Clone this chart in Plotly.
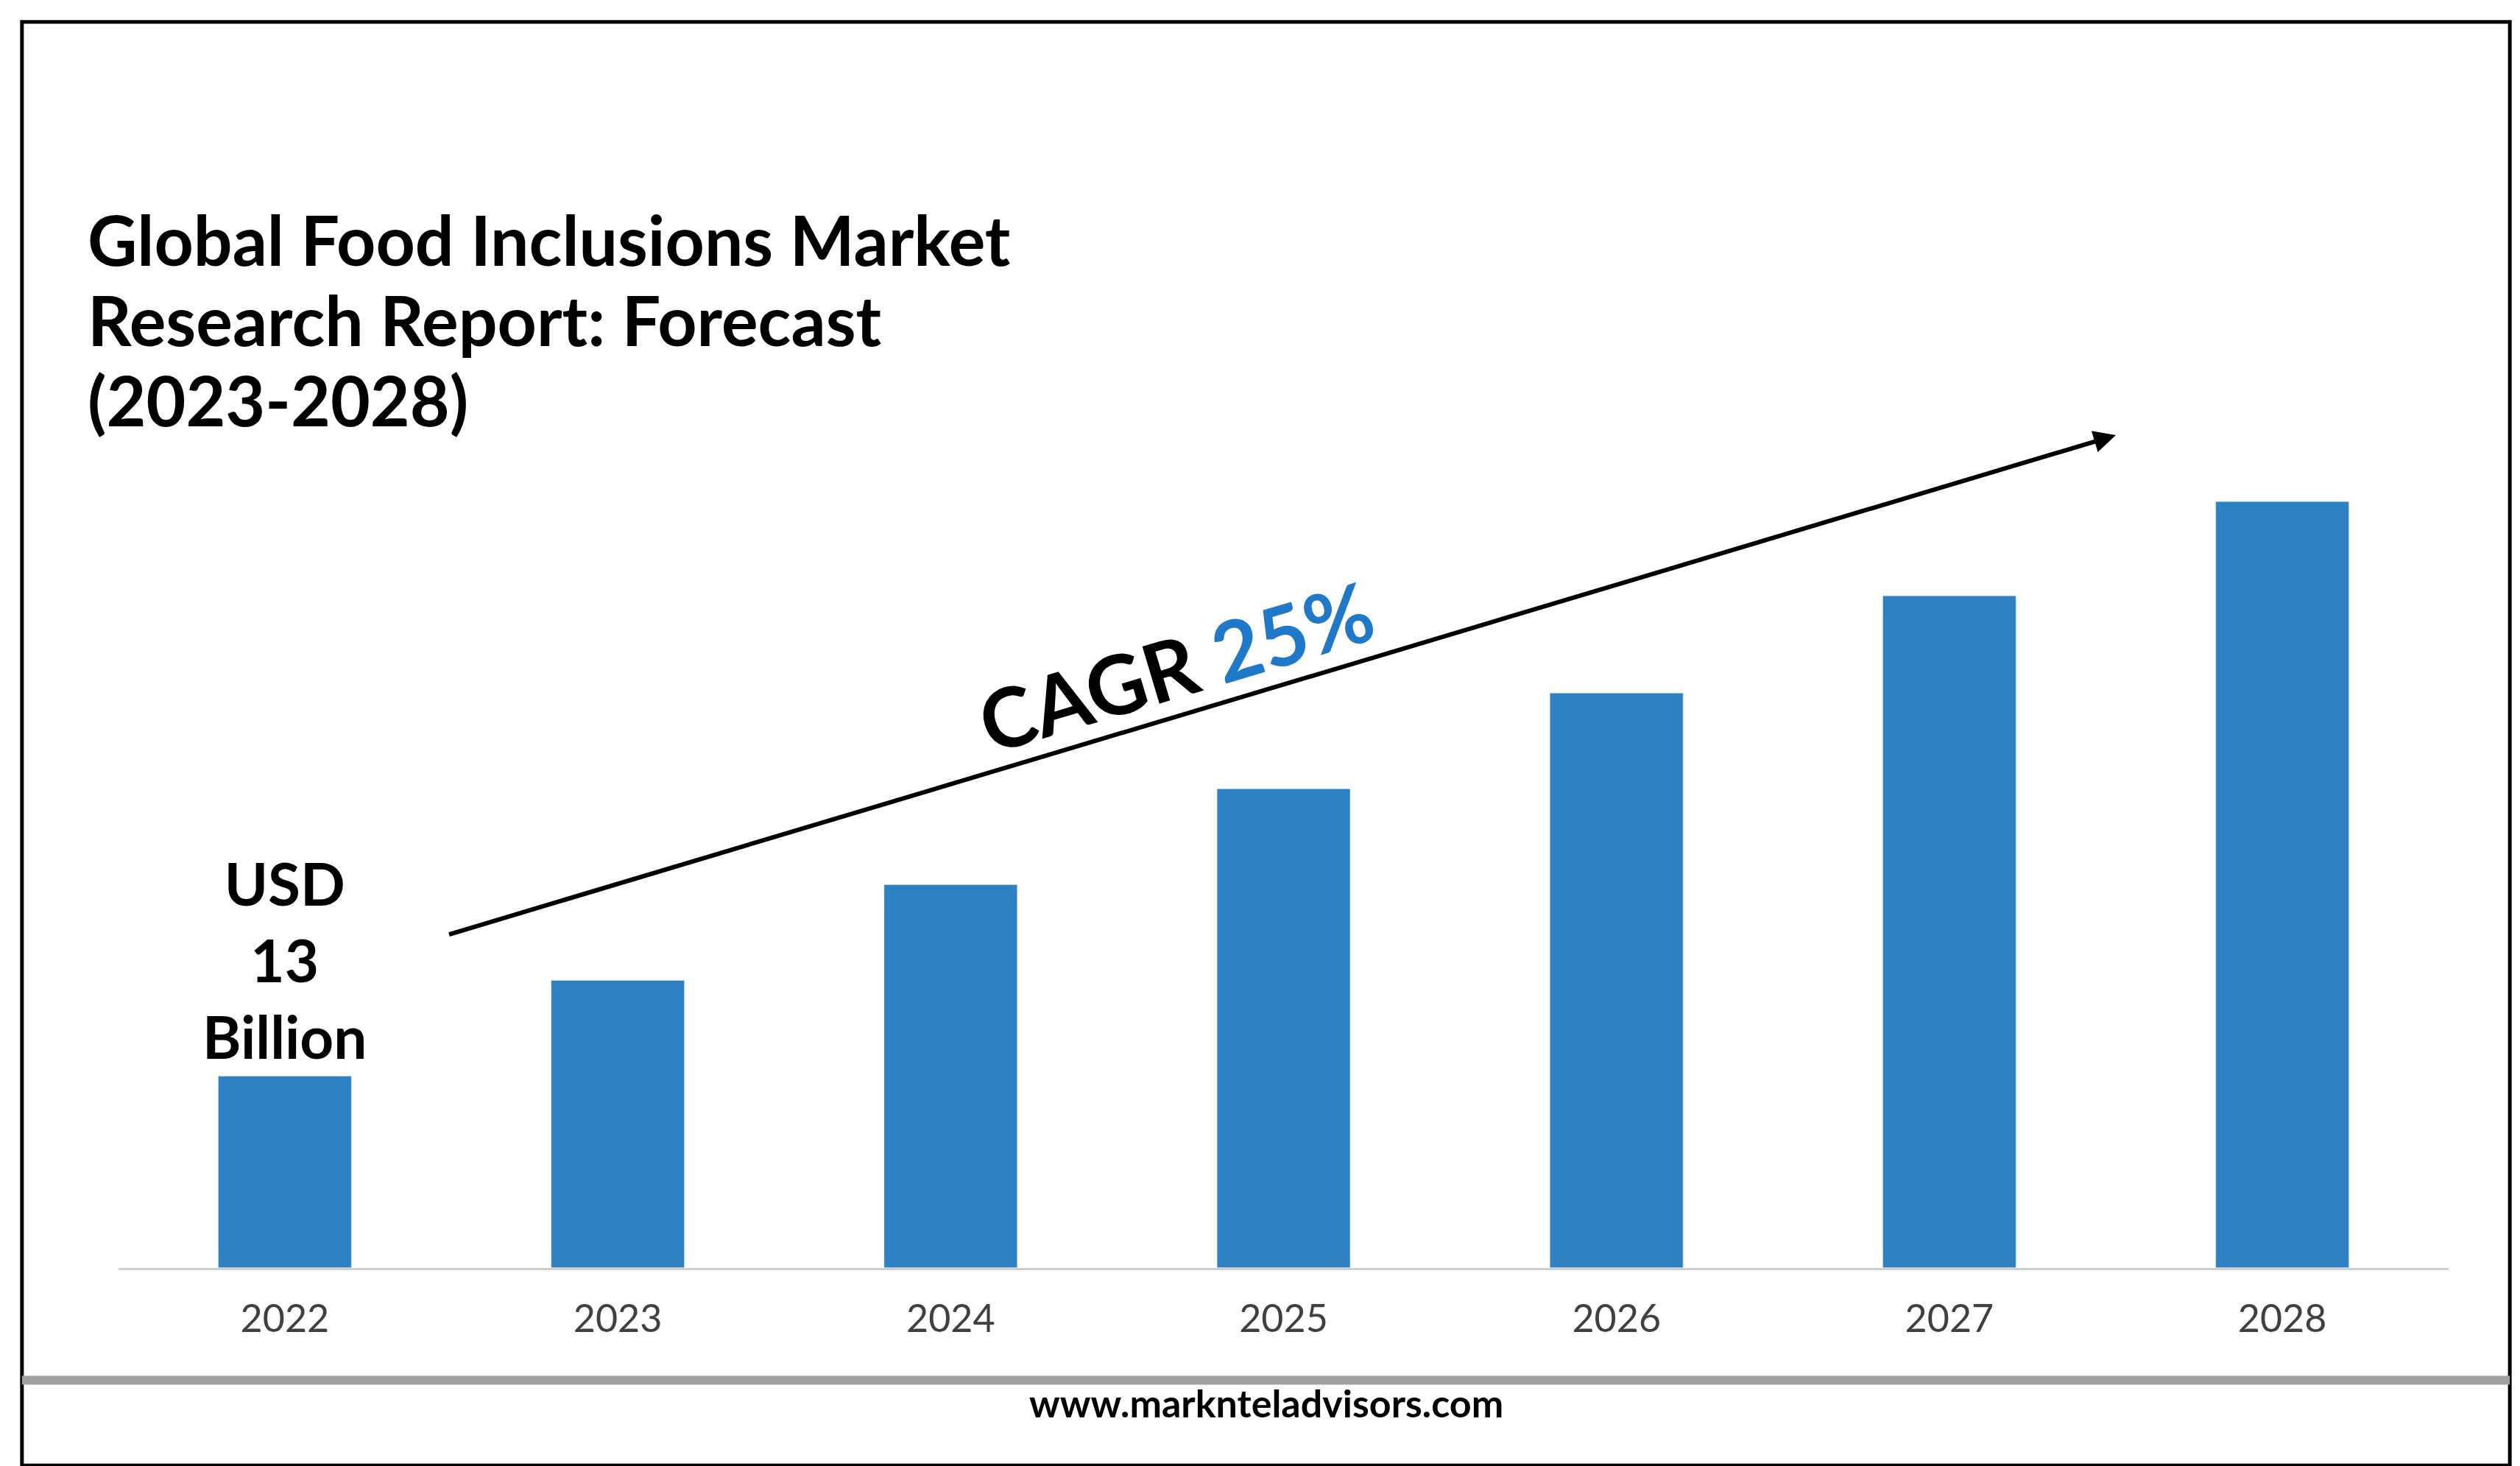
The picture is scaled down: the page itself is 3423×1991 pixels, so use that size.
import plotly.graph_objects as go

years = ["2022", "2023", "2024", "2025", "2026", "2027", "2028"]
values = [13, 19.5, 26, 32.5, 39, 45.6, 52]
title_lines = ["Global Food Inclusions Market", "Research Report: Forecast", "(2023-2028)"]

H = 912.0  # reference height in display px


def py(y):
    return 1 - y / H


def px(x):
    return x / 1568.0


fig = go.Figure()
fig.add_trace(go.Bar(x=list(range(len(years))), y=values, marker_color="#2E82C4", width=0.4))

font = "Lato"
fig.update_layout(
    width=3423, height=1991, margin=dict(l=0, r=0, t=0, b=0),
    paper_bgcolor="white", plot_bgcolor="white", showlegend=False,
    xaxis=dict(domain=[px(70), px(1520)], range=[-0.5, 6.5], tickmode="array",
               tickvals=list(range(len(years))), ticktext=years, showgrid=False,
               showline=True, linecolor="#d0d0d0", linewidth=3, ticks="",
               ticklabelstandoff=22,
               tickfont=dict(family=font, size=52, color="#404040")),
    yaxis=dict(domain=[py(785), py(235)], range=[0, 60], visible=False),
    font=dict(family=font),
)

shapes = [
    dict(type="rect", xref="paper", yref="paper", x0=px(10), x1=px(1558), y0=py(908), y1=py(10),
         line=dict(color="black", width=5)),
    dict(type="line", xref="paper", yref="paper", x0=px(10), x1=px(1558), y0=py(855), y1=py(855),
         line=dict(color="#a0a0a0", width=12)),
]
fig.update_layout(shapes=shapes)

# title, one annotation per line for tighter line spacing
for i, line in enumerate(title_lines):
    fig.add_annotation(xref="paper", yref="paper", x=px(50), y=py(145 + 50 * i), xanchor="left",
                       yanchor="middle", showarrow=False, text=f"<b>{line}</b>",
                       font=dict(size=93, color="black", family=font))
fig.add_annotation(xref="x", yref="y", x=0, y=values[0], yanchor="bottom", yshift=5, showarrow=False,
                   text="<b>USD<br>13<br>Billion</b>", font=dict(size=80, color="black", family=font))
# CAGR arrow
fig.add_annotation(xref="x", yref="y", axref="x", ayref="y", x=5.5, y=56.5, ax=0.49, ay=22.6,
                   showarrow=True, arrowhead=2, arrowsize=1, arrowwidth=6, arrowcolor="black", text="")
fig.add_annotation(xref="paper", yref="paper", x=px(728), y=py(410), showarrow=False, textangle=-16.7,
                   text="<b>CAGR <span style='color:#1F78C8'>25%</span></b>",
                   font=dict(size=112, color="black", family=font))
fig.add_annotation(xref="paper", yref="paper", x=0.5, y=py(884), showarrow=False,
                   text="<b>www.marknteladvisors.com</b>", font=dict(size=52, color="black", family=font))

fig.write_html("out.html")
